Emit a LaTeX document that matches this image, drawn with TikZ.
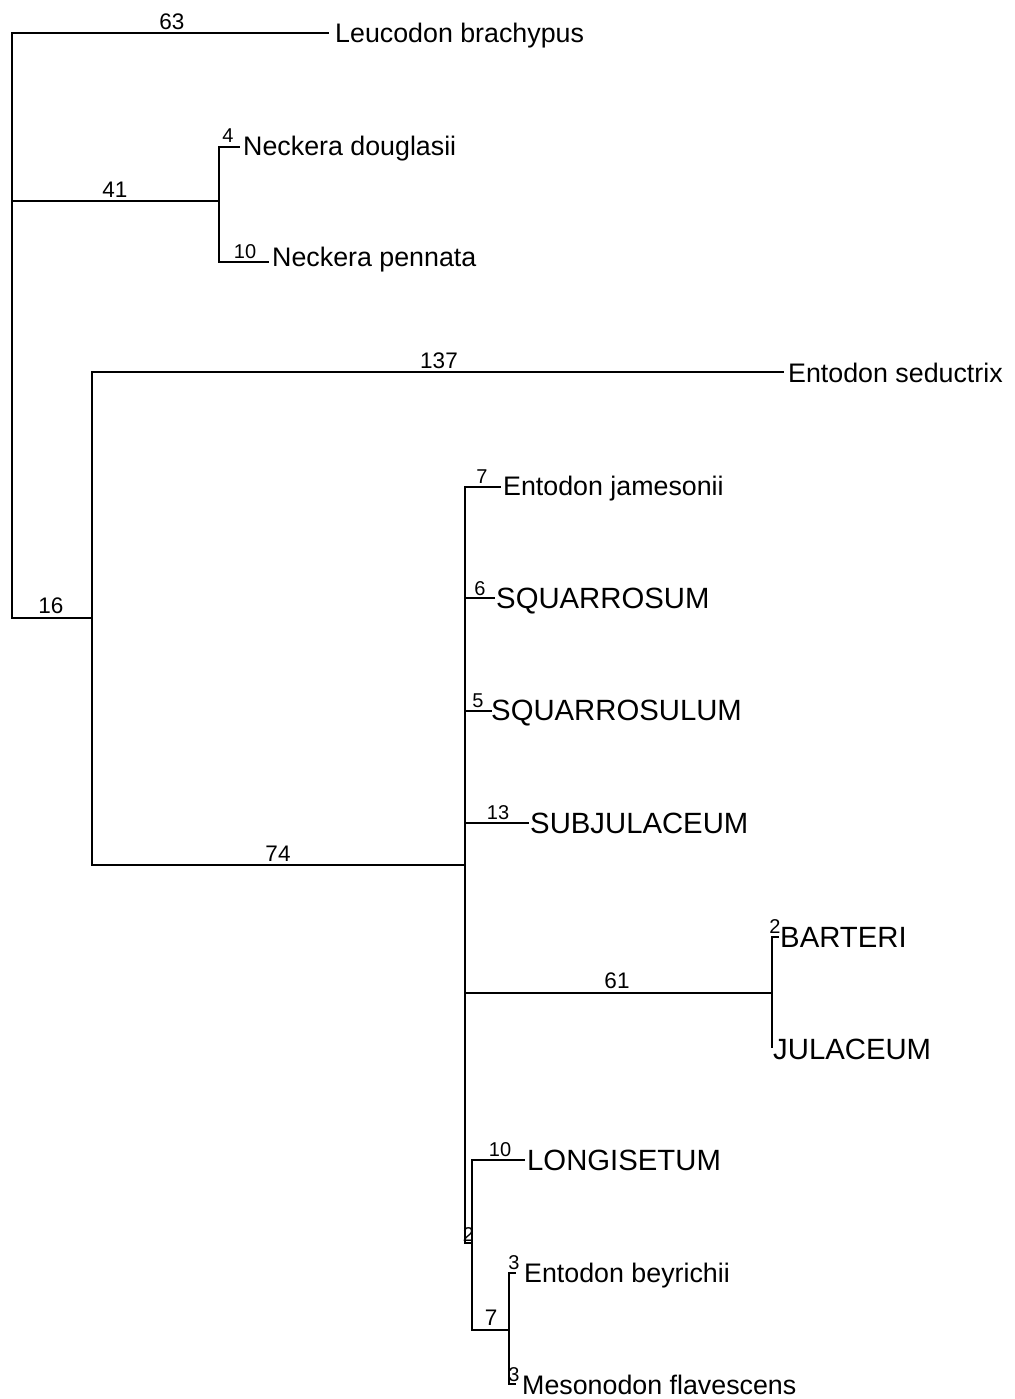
\documentclass[tikz,border=0pt]{standalone}
\usepackage{fontspec}
\setmainfont{Liberation Sans}
\begin{document}
\begin{tikzpicture}[x=1pt,y=-1pt,
  branch/.style={line width=1.8pt,line join=miter,line cap=rect},
  taxon/.style={anchor=base west,inner sep=0pt,font=\fontsize{26.8}{30}\selectfont},
  taxoncaps/.style={anchor=base west,inner sep=0pt,font=\fontsize{29.3}{33}\selectfont},
  bignum/.style={anchor=base,inner sep=0pt,font=\fontsize{22.5}{25}\selectfont},
  smallnum/.style={anchor=base,inner sep=0pt,font=\fontsize{20}{23}\selectfont}]
\useasboundingbox (0,0) rectangle (1014,1399);
% internal nodes
\coordinate (root) at (12,618);
\coordinate (n41) at (219,201);
\coordinate (n16) at (92,618);
\coordinate (n74) at (465,865);
\coordinate (n61) at (772,993);
\coordinate (n2) at (472,1243);
\coordinate (n7) at (509,1330);
% tips
\coordinate (tLeuc) at (328,33);
\coordinate (tDoug) at (239,147);
\coordinate (tPenn) at (268,262);
\coordinate (tSeduc) at (783,372);
\coordinate (tJam) at (500,487);
\coordinate (tSqu) at (494,598);
\coordinate (tSqul) at (491,711);
\coordinate (tSubj) at (528,823);
\coordinate (tBart) at (778,937);
\coordinate (tJul) at (772,1047);
\coordinate (tLong) at (524,1160);
\coordinate (tBeyr) at (515,1273);
\coordinate (tMeso) at (515,1384);
% branches
\draw[branch] (root) |- (tLeuc);
\draw[branch] (root) |- (n41);
\draw[branch] (root) -- (n16);
\draw[branch] (n41) |- (tDoug);
\draw[branch] (n41) |- (tPenn);
\draw[branch] (n16) |- (tSeduc);
\draw[branch] (n16) |- (n74);
\draw[branch] (n74) |- (tJam);
\draw[branch] (n74) |- (tSqu);
\draw[branch] (n74) |- (tSqul);
\draw[branch] (n74) |- (tSubj);
\draw[branch] (n74) |- (n61);
\draw[branch] (n74) |- (n2);
\draw[branch] (n61) |- (tBart);
\draw[branch] (n61) -- (tJul);
\draw[branch] (n2) |- (tLong);
\draw[branch] (n2) |- (n7);
\draw[branch] (n7) |- (tBeyr);
\draw[branch] (n7) |- (tMeso);
% taxon labels
\node[taxon] (lLeuc) at (335,43) {Leucodon brachypus};
\node[taxon] (lDoug) at (243,156) {Neckera douglasii};
\node[taxon] (lPenn) at (272,266) {Neckera pennata};
\node[taxon] (lSeduc) at (788,382) {Entodon seductrix};
\node[taxon] (lJam) at (503,495) {Entodon jamesonii};
\node[taxoncaps] (lSqu) at (496,608) {SQUARROSUM};
\node[taxoncaps] (lSqul) at (491,720) {SQUARROSULUM};
\node[taxoncaps] (lSubj) at (530,833) {SUBJULACEUM};
\node[taxoncaps] (lBart) at (780,947) {BARTERI};
\node[taxoncaps] (lJul) at (773,1059) {JULACEUM};
\node[taxoncaps] (lLong) at (527,1170) {LONGISETUM};
\node[taxon] (lBeyr) at (524,1282) {Entodon beyrichii};
\node[taxon] (lMeso) at (522,1394) {Mesonodon flavescens};
% branch lengths
\node[bignum] (b63) at (172,30) {63};
\node[bignum] (b41) at (115,197) {41};
\node[smallnum] (b4) at (228,143) {4};
\node[smallnum] (b10a) at (245,258) {10};
\node[bignum] (b137) at (439,368) {137};
\node[bignum] (b16) at (51,613) {16};
\node[bignum] (b74) at (278,861) {74};
\node[smallnum] (b7a) at (482,483) {7};
\node[smallnum] (b6) at (480,595) {6};
\node[smallnum] (b5) at (478,707) {5};
\node[smallnum] (b13) at (498,819) {13};
\node[bignum] (b61) at (617,988) {61};
\node[smallnum] (b2a) at (775,933) {2};
\node[smallnum] (b10b) at (500,1156) {10};
\node[smallnum] (b2b) at (468.5,1241) {2};
\node[bignum] (b7b) at (491,1325) {7};
\node[smallnum] (b3a) at (514,1269) {3};
\node[smallnum] (b3b) at (514,1381) {3};
\end{tikzpicture}
\end{document}
